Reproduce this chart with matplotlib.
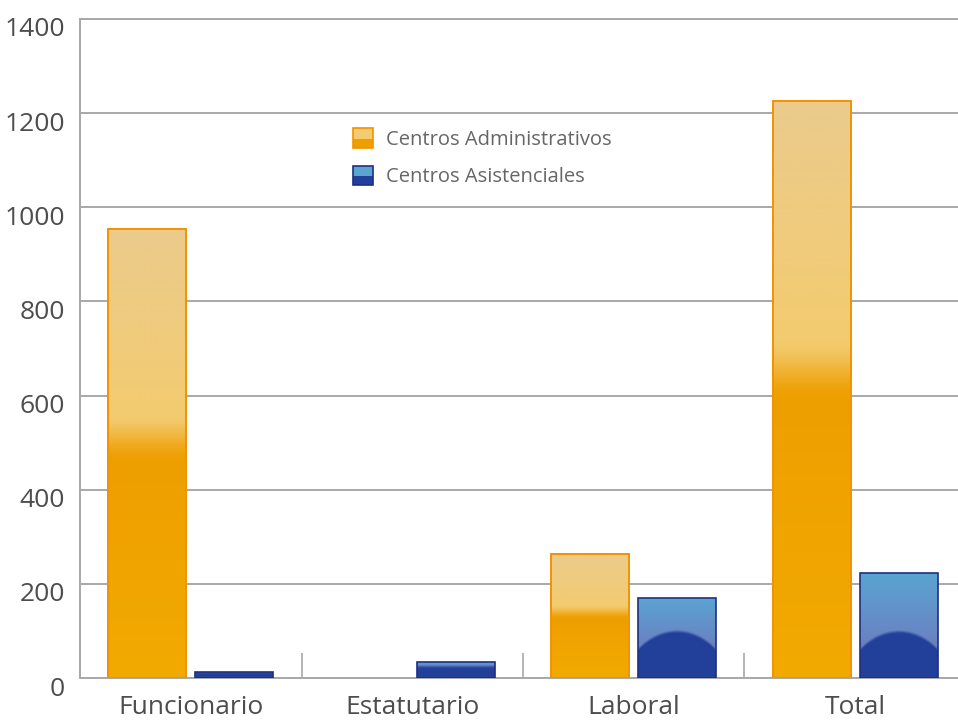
import matplotlib.pyplot as plt
import numpy as np
from matplotlib.colors import to_rgb
from matplotlib.legend_handler import HandlerPatch
from matplotlib.patches import Patch, Rectangle
import matplotlib.transforms as mtransforms

plt.rcParams["font.family"] = ["Open Sans", "DejaVu Sans"]

categories = ["Funcionario", "Estatutario", "Laboral", "Total"]
series_names = ["Centros Administrativos", "Centros Asistenciales"]
administrativos = [954, 0, 263, 1226]
asistenciales = [13, 34, 170, 224]
y_ticks = [0, 200, 400, 600, 800, 1000, 1200, 1400]

WIDTH = 0.352
OFFSET = 0.197


def mix(c1, c2, t):
    a = np.array(to_rgb(c1))
    b = np.array(to_rgb(c2))
    t = np.clip(t, 0, 1)[..., None]
    return a * (1 - t) + b * t


def smooth(t):
    t = np.clip(t, 0, 1)
    return t * t * (3 - 2 * t)


def orange_image(n=300):
    # fraction from the top of the bar
    f = np.linspace(0, 1, n)[::-1]
    col = np.where(
        (f < 0.41)[:, None],
        mix("#EBCB8C", "#F3CB70", f / 0.41),
        np.where(
            (f < 0.52)[:, None],
            mix("#F3CB70", "#EE9F00", smooth((f - 0.41) / 0.11)),
            mix("#EE9F00", "#F2AA00", (f - 0.52) / 0.48),
        ),
    )
    return np.repeat(col[:, None, :], 2, axis=1)


def blue_image(h, n=300, m=80):
    y = np.linspace(0, h, n)[:, None]
    x = np.linspace(0, 1, m)[None, :]
    shape = np.sqrt(np.clip(1 - ((x - 0.5) / 0.8) ** 2, 0, 1))
    boundary = np.minimum(170 * (shape - 0.45), 0.55 * h)
    upper = mix("#5AA5D2", "#6C7DC0", (h - y) / max(h - boundary.min(), 1))
    upper = np.broadcast_to(upper, (n, m, 3))
    dark = np.array(to_rgb("#22409A"))
    t = smooth((y - boundary) / 9.0)[..., None]
    return dark * (1 - t) + upper * t


def gradient_bar(ax, x, h, img, edge, lw):
    if h <= 0:
        return
    bar = ax.bar(x, h, WIDTH, facecolor="none", edgecolor=edge, linewidth=lw, zorder=4)[0]
    im = ax.imshow(img, extent=[x - WIDTH / 2, x + WIDTH / 2, 0, h], origin="lower",
                   aspect="auto", interpolation="bilinear", zorder=3)
    im.set_clip_path(bar)


class HandlerGloss(HandlerPatch):
    def __init__(self, top, bottom, edge):
        super().__init__()
        self.top, self.bottom, self.edge = top, bottom, edge

    def create_artists(self, legend, orig_handle, xdescent, ydescent, width, height,
                       fontsize, trans):
        s = min(width, height * 1.1)
        x0 = -xdescent
        y0 = -ydescent + (height - s) / 2
        lower = Rectangle((x0, y0), s, s * 0.45, facecolor=self.bottom, edgecolor="none",
                          transform=trans)
        upper = Rectangle((x0, y0 + s * 0.45), s, s * 0.55, facecolor=self.top,
                          edgecolor="none", transform=trans)
        frame = Rectangle((x0, y0), s, s, facecolor="none", edgecolor=self.edge, lw=1.2,
                          transform=trans)
        return [lower, upper, frame]


fig = plt.figure(figsize=(9.58, 7.26), dpi=100)
ax = fig.add_axes([80 / 958, 48 / 726, 886 / 958, 659 / 726])

x = np.arange(len(categories))
for i in range(len(categories)):
    gradient_bar(ax, x[i] - OFFSET, administrativos[i], orange_image(), "#F39200", 1.4)
    gradient_bar(ax, x[i] + OFFSET, asistenciales[i], blue_image(asistenciales[i]),
                 "#1E2F80", 1.2)

ax.set_xlim(-0.5, len(categories) - 0.5)
ax.set_ylim(0, 1400)
ax.set_yticks(y_ticks)
ax.set_yticklabels([str(v) for v in y_ticks])
ax.yaxis.grid(True, color="#A8A8A8", linewidth=1.4)
ax.set_axisbelow(True)
ax.tick_params(axis="y", length=0, pad=11, labelsize=19, labelcolor="#4D4D4D")
offset = mtransforms.ScaledTranslation(0, -8 / 100, fig.dpi_scale_trans)
for lab in ax.get_yticklabels():
    lab.set_transform(lab.get_transform() + offset)

ax.set_xticks(x)
ax.set_xticklabels(categories)
ax.set_xticks(x[:-1] + 0.5, minor=True)
ax.tick_params(axis="x", which="major", length=0, pad=12, labelsize=19, labelcolor="#4D4D4D")
ax.tick_params(axis="x", which="minor", direction="in", length=18, width=1.2, color="#A8A8A8")

ax.spines["right"].set_visible(False)
for side in ["left", "bottom", "top"]:
    ax.spines[side].set_color("#A8A8A8")
    ax.spines[side].set_linewidth(1.4)

h1 = Patch(label=series_names[0])
h2 = Patch(label=series_names[1])
ax.legend(handles=[h1, h2], loc="upper left", bbox_to_anchor=(0.288, 0.86), frameon=False,
          fontsize=14.5, labelcolor="#666666", handlelength=1.0, handleheight=1.0,
          handletextpad=0.6, labelspacing=0.8,
          handler_map={h1: HandlerGloss("#F3CB70", "#EE9F00", "#F39200"),
                       h2: HandlerGloss("#5AA5D2", "#22409A", "#1E2F80")})

fig.savefig("out.png", dpi=100)
